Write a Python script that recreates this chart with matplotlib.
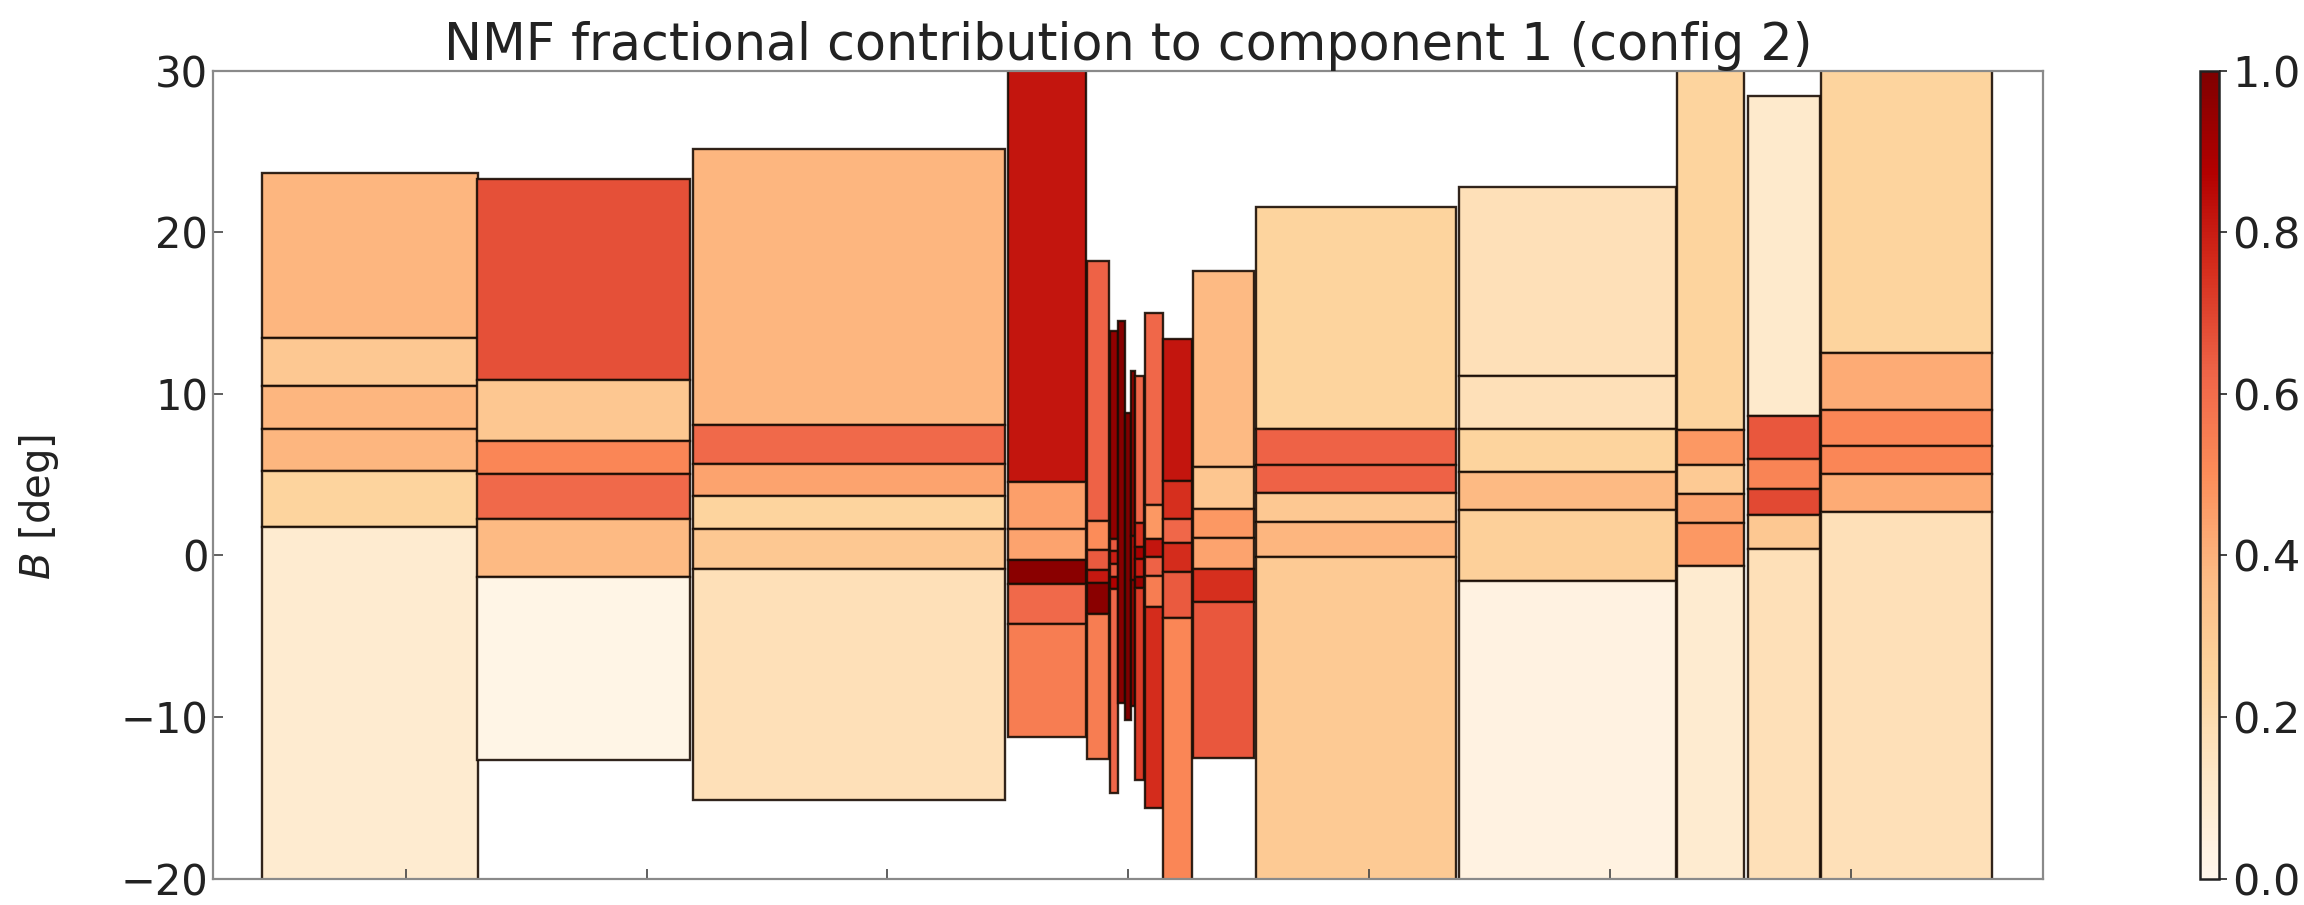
import matplotlib
matplotlib.use("Agg")
import matplotlib.pyplot as plt
import numpy as np
from matplotlib import colors

# ---------------- data ----------------
# column x extents (data units)
col_left = [-89.97, -67.60, -45.21, -12.50, -4.27, -1.90, -1.07, -0.31, 0.31, 0.69,
            1.75, 3.58, 6.71, 13.27, 34.31, 57.03, 64.35, 71.97]
col_right = [-67.55, -45.44, -12.81, -4.42, -1.98, -1.07, -0.31, 0.31, 0.69, 1.60,
             3.58, 6.63, 13.11, 34.00, 56.88, 63.97, 71.82, 89.66]

# B bin edges per column (top -> bottom)
col_edges = [
    [23.65, 13.45, 10.5, 7.8, 5.25, 1.75, -25.0],
    [23.3, 10.85, 7.07, 5.07, 2.23, -1.33, -12.63],
    [25.13, 8.06, 5.69, 3.69, 1.66, -0.86, -15.1],
    [33.0, 4.56, 1.61, -0.29, -1.77, -4.21, -11.2],
    [18.24, 2.15, 0.37, -0.87, -1.73, -3.59, -12.6],
    [13.9, 1.0, 0.3, -0.5, -1.3, -2.1, -14.7],
    [14.5, -9.1],
    [8.8, -10.2],
    [11.4, 1.2, -1.5, -9.3],
    [11.1, 2.0, 0.5, -0.2, -1.3, -2.0, -13.9],
    [15.0, 3.1, 1.05, -0.1, -1.26, -3.19, -15.6],
    [13.4, 4.6, 2.25, 0.8, -1.0, -3.85, -25.0],
    [17.6, 5.5, 2.87, 1.07, -0.83, -2.85, -12.5],
    [21.57, 7.8, 5.59, 3.84, 2.09, -0.07, -25.0],
    [22.8, 11.1, 7.8, 5.18, 2.8, -1.6, -25.0],
    [33.0, 7.78, 5.57, 3.8, 2.04, -0.62, -25.0],
    [28.4, 8.66, 6.0, 4.14, 2.48, 0.38, -25.0],
    [33.0, 12.53, 9.0, 6.79, 5.02, 2.7, -25.0],
]

# fractional contribution per cell (top -> bottom)
col_values = [
    [0.39, 0.31, 0.39, 0.39, 0.25, 0.10],
    [0.675, 0.315, 0.52, 0.61, 0.375, 0.02],
    [0.39, 0.61, 0.44, 0.25, 0.31, 0.175],
    [0.82, 0.45, 0.44, 0.97, 0.61, 0.55],
    [0.63, 0.50, 0.65, 0.81, 0.97, 0.55],
    [0.95, 0.65, 0.80, 0.65, 0.88, 0.62],
    [0.98],
    [1.00],
    [0.95, 0.85, 0.93],
    [0.62, 0.75, 0.90, 0.80, 0.93, 0.72],
    [0.62, 0.47, 0.82, 0.63, 0.55, 0.76],
    [0.82, 0.75, 0.62, 0.76, 0.65, 0.52],
    [0.375, 0.32, 0.47, 0.44, 0.75, 0.66],
    [0.25, 0.63, 0.63, 0.31, 0.39, 0.30],
    [0.175, 0.175, 0.25, 0.375, 0.27, 0.04],
    [0.25, 0.47, 0.30, 0.44, 0.47, 0.10],
    [0.11, 0.66, 0.53, 0.69, 0.31, 0.175],
    [0.25, 0.42, 0.52, 0.52, 0.42, 0.175],
]

x_ticks = [-75, -50, -25, 0, 25, 50, 75]
y_ticks = [-20, -10, 0, 10, 20, 30]
cbar_ticks = [0.0, 0.2, 0.4, 0.6, 0.8, 1.0]
title = "NMF fractional contribution to component 1 (config 2)"

# ---------------- plot ----------------
plt.rcParams["font.family"] = ["DejaVu Sans"]
fig = plt.figure(figsize=(23.04, 9.05), dpi=100)
ax = fig.add_axes([0.0925, 0.029, 0.7943, 0.893])
cax = fig.add_axes([0.9549, 0.029, 0.0082, 0.893])

cmap = plt.get_cmap("OrRd")
norm = colors.Normalize(vmin=0.0, vmax=1.0)

for xl, xr, edges, vals in zip(col_left, col_right, col_edges, col_values):
    edges = np.asarray(edges)
    tops = edges[:-1]
    bots = edges[1:]
    ax.bar(np.full(len(vals), xl), tops - bots, width=xr - xl, bottom=bots,
           align="edge", color=cmap(norm(np.asarray(vals))),
           edgecolor=(0.1, 0.05, 0.02, 0.9), linewidth=1.7)

ax.set_xlim(-95, 95)
ax.set_ylim(-20, 30)
ax.set_xticks(x_ticks)
ax.set_xticklabels([])
ax.set_yticks(y_ticks)
ax.tick_params(axis="both", direction="in", length=7, width=1.2, color="#444444",
               labelsize=30, labelcolor="#222222", top=False, right=False)
for sp in ax.spines.values():
    sp.set_color("#8a8a8a")
    sp.set_linewidth(1.6)

ax.set_title(title, fontsize=36.5, color="#222222", pad=3)
ax.set_ylabel("$B$ [deg]", fontsize=29, color="#222222")
ax.yaxis.set_label_coords(-0.083, 0.46)

sm = plt.cm.ScalarMappable(norm=norm, cmap=cmap)
cb = fig.colorbar(sm, cax=cax, ticks=cbar_ticks)
cb.ax.set_yticklabels([f"{t:.1f}" for t in cbar_ticks])
cb.ax.tick_params(direction="out", length=6, width=1.2, labelsize=31,
                  labelcolor="#222222", color="#222222")
cb.outline.set_linewidth(1.8)
cb.outline.set_edgecolor("#222222")

fig.savefig("out.png", dpi=100)
